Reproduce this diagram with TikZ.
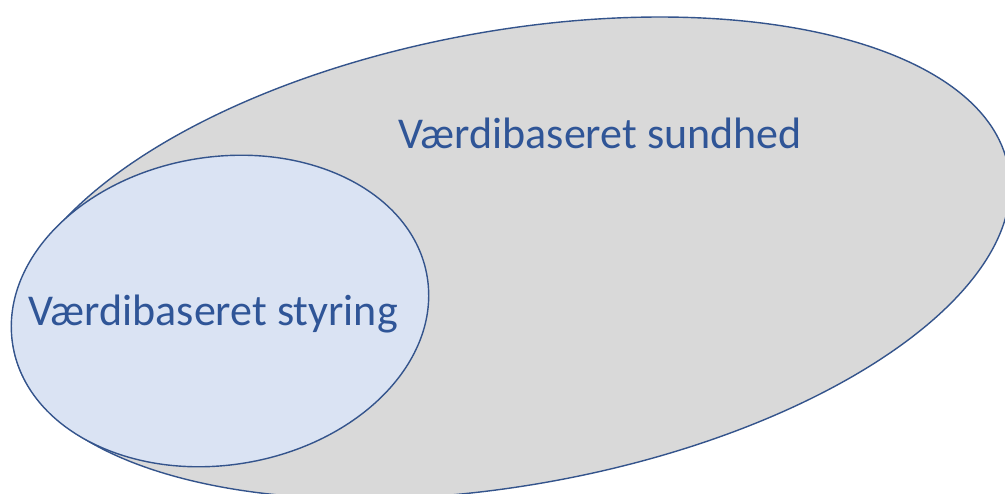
\documentclass[tikz,border=0pt]{standalone}
\usepackage{fontspec}
\setmainfont{Carlito}
\usetikzlibrary{shapes.geometric}
\definecolor{edgeblue}{RGB}{52,84,140}
\definecolor{textblue}{RGB}{47,85,151}
\definecolor{biggray}{RGB}{217,217,217}
\definecolor{smallblue}{RGB}{218,227,243}
\tikzset{
  blob/.style={ellipse, draw=edgeblue, line width=1.4pt, inner sep=0pt},
  lbl/.style={text=textblue, font=\fontsize{44}{50}\selectfont, inner sep=0pt}
}
\begin{document}
\begin{tikzpicture}[x=1pt,y=-1pt]
\useasboundingbox (0,0) rectangle (1005,494);
\fill[white] (0,0) rectangle (1005,494);
\node[blob, fill=biggray, minimum width=1011pt, minimum height=454pt, rotate=10.3] (sundhed) at (511,258) {};
\node[blob, fill=smallblue, minimum width=420pt, minimum height=308pt, rotate=9.4] (styring) at (220,311) {};
\node[lbl] (tsundhed) at (600,133) {Værdibaseret sundhed};
\node[lbl] (tstyring) at (213,314) {Værdibaseret styring};
\end{tikzpicture}
\end{document}
